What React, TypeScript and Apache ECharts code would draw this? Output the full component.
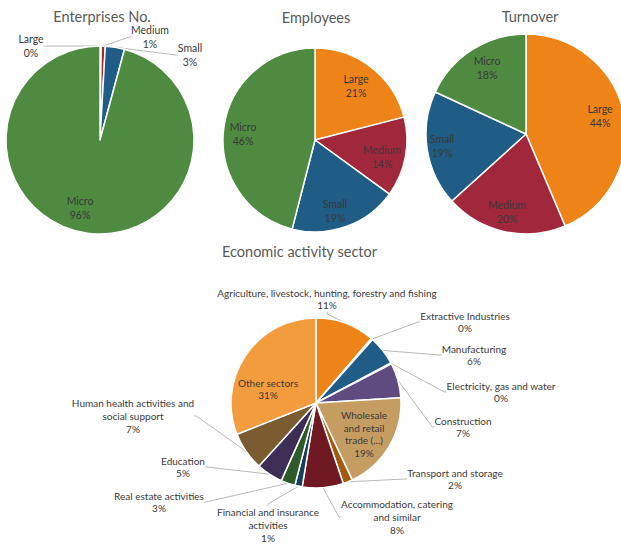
import React, { useEffect, useRef } from "react";
import * as echarts from "echarts";

// ---- data ----
const sizeCategories = ["Large", "Medium", "Small", "Micro"];
const enterprisesShare = [0.2, 0.7, 3.3, 95.8];
const employeesShare = [21, 14, 19, 46];
const turnoverShare = [43.6, 19.7, 18.6, 18.1];

const sectorNames = [
  "Agriculture, livestock, hunting, forestry and fishing",
  "Extractive Industries",
  "Manufacturing",
  "Electricity, gas and water",
  "Construction",
  "Wholesale and retail trade (...)",
  "Transport and storage",
  "Accommodation, catering and similar",
  "Financial and insurance activities",
  "Real estate activities",
  "Education",
  "Human health activities and social support",
  "Other sectors",
];
const sectorLabelLines = [
  "Agriculture, livestock, hunting, forestry and fishing",
  "Extractive Industries",
  "Manufacturing",
  "Electricity, gas and water",
  "Construction",
  "Wholesale\nand retail\ntrade (...)",
  "Transport and storage",
  "Accommodation, catering\nand similar",
  "Financial and insurance\nactivities",
  "Real estate activities",
  "Education",
  "Human health activities and\nsocial support",
  "Other sectors",
];
const sectorShare = [11.3, 0.3, 5.6, 0.2, 6.6, 19.0, 1.8, 7.8, 1.4, 2.7, 5.0, 7.3, 31.0];

// ---- styling ----
const sizeColors = ["#EE8318", "#A1283B", "#1F5C86", "#4E8A3F"];
const sectorColors = [
  "#EE8318", "#A1283B", "#1F5C86", "#4E8A3F", "#5F4B80", "#C59D62", "#A35A0C",
  "#6F1A22", "#173F5C", "#2F5A2B", "#3D2E55", "#7B5B30", "#F39C3D",
];
const FONT = "Lato, 'Open Sans', sans-serif";
const LABEL_COLOR = "#3a3a3a";
const LINE_STYLE = { color: "#A6A6A6", width: 0.8 };

// label anchor points (centre of each text block)
const enterprisesLabelPos = [[31, 46], [150, 37], [190, 55], [80, 208]];
const employeesLabelPos = [[356, 86], [382, 157], [335, 211], [243, 134]];
const turnoverLabelPos = [[600, 116], [507, 212], [442, 146], [487, 68]];
const sectorLabelPos = [
  [327, 299], [465, 322], [474, 355], [501, 392], [463, 427], [364, 434], [455, 479],
  [397, 517], [268, 525], [159, 502], [183, 467], [133, 416], [268, 389],
];

const pctText = (p: any) => `${Math.round(p.percent)}%`;

function placeAt(table: number[][]) {
  return (params: any) => {
    const pos = table[params.dataIndex];
    if (!pos) return {};
    return { x: pos[0], y: pos[1], align: "center", verticalAlign: "middle" };
  };
}

function sizePie(
  values: number[],
  center: number[],
  r: number,
  outside: boolean[],
  labelPos: number[][]
) {
  return {
    type: "pie",
    center,
    radius: [0, r],
    startAngle: 90,
    clockwise: true,
    avoidLabelOverlap: false,
    itemStyle: { borderColor: "#ffffff", borderWidth: 1.5 },
    label: {
      show: true,
      formatter: (p: any) => `${p.name}\n${pctText(p)}`,
      color: LABEL_COLOR,
      fontFamily: FONT,
      fontSize: 10.5,
      lineHeight: 13.5,
      align: "center",
    },
    labelLine: { show: true, length: 6, length2: 2, lineStyle: LINE_STYLE },
    labelLayout: placeAt(labelPos),
    data: sizeCategories.map((name, i) => ({
      name,
      value: values[i],
      itemStyle: { color: sizeColors[i] },
      label: { position: outside[i] ? "outside" : "inside" },
      labelLine: { show: outside[i] },
    })),
  };
}

const insideSectors = [false, false, false, false, false, true, false, false, false, false, false, false, true];

function buildOption(): any {
  const titleStyle = { fill: "#595959", fontFamily: FONT, fontSize: 14.5 };
  return {
    animation: false,
    backgroundColor: "#ffffff",
    graphic: [
      { type: "text", x: 102, y: 16, style: { ...titleStyle, text: "Enterprises No.", align: "center", verticalAlign: "middle" } },
      { type: "text", x: 316, y: 17, style: { ...titleStyle, text: "Employees", align: "center", verticalAlign: "middle" } },
      { type: "text", x: 530, y: 16, style: { ...titleStyle, text: "Turnover", align: "center", verticalAlign: "middle" } },
      { type: "text", x: 222, y: 251, style: { ...titleStyle, text: "Economic activity sector", align: "left", verticalAlign: "middle" } },
    ],
    series: [
      sizePie(enterprisesShare, [100, 140], 94, [true, true, true, false], enterprisesLabelPos),
      sizePie(employeesShare, [315, 140], 92, [false, false, false, false], employeesLabelPos),
      sizePie(turnoverShare, [526, 134], 100, [false, false, false, false], turnoverLabelPos),
      {
        type: "pie",
        center: [316, 403],
        radius: [0, 85],
        startAngle: 90,
        clockwise: true,
        avoidLabelOverlap: false,
        itemStyle: { borderColor: "#ffffff", borderWidth: 1.5 },
        label: {
          show: true,
          color: LABEL_COLOR,
          fontFamily: FONT,
          fontSize: 10,
          lineHeight: 12.7,
          align: "center",
          formatter: (p: any) => `${sectorLabelLines[p.dataIndex]}\n${pctText(p)}`,
        },
        labelLine: { show: true, length: 6, length2: 2, lineStyle: LINE_STYLE },
        labelLayout: placeAt(sectorLabelPos),
        data: sectorNames.map((name, i) => ({
          name,
          value: sectorShare[i],
          itemStyle: { color: sectorColors[i] },
          label: { position: insideSectors[i] ? "inside" : "outside" },
          labelLine: { show: !insideSectors[i] },
        })),
      },
    ],
  };
}

export default function App() {
  const ref = useRef<HTMLDivElement>(null);
  useEffect(() => {
    if (!ref.current) return;
    const chart = echarts.init(ref.current, null, { renderer: "svg" });
    chart.setOption(buildOption());
    return () => chart.dispose();
  }, []);
  return (
    <div
      ref={ref}
      style={{ position: "absolute", left: 0, top: 0, width: 621, height: 557, background: "#fff" }}
    />
  );
}
